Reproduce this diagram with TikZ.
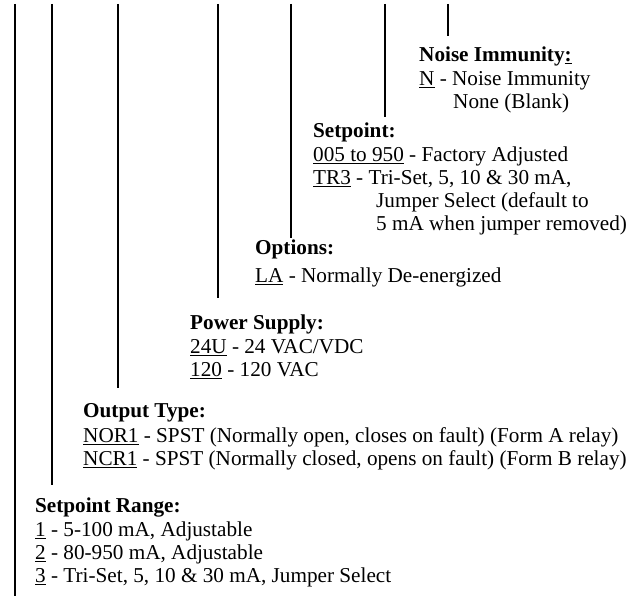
\documentclass[tikz,border=0pt]{standalone}
\usepackage{fontspec}
\setmainfont{Liberation Serif}
\usetikzlibrary{positioning}
\tikzset{leader/.style={line width=2.8pt},
	block/.style={anchor=north west, align=left, inner sep=0pt, font=\fontsize{21.2}{23}\selectfont}}
\newcommand{\opt}[1]{\underline{#1}}
\newcommand{\head}[1]{\textbf{#1}\\[1.5pt]}

\begin{document}
\begin{tikzpicture}[x=1pt,y=-1pt]
	\useasboundingbox (0,0) rectangle (630,596);
	\foreach \x/\y [count=\i] in {15/596,52/485,118/388,218/298,291/238,385/117}{
		\coordinate (top\i) at (\x,4);
		\coordinate (end\i) at (\x,\y);
		\draw[leader] (top\i) -- (end\i);
	}
	\coordinate (top7) at (448,4);
	\coordinate (end7) at (448,36);
	\draw[line width=2.2pt] (top7) -- (end7);
	\node[block] (noise) at (419,46.5) {\textbf{Noise Immunity\opt{:}}\\[1.5pt]
		\opt{N} - Noise Immunity\\ \hspace*{34pt}None (Blank)};
	\node[block] (setpt) at (313,122.5) {\head{Setpoint:}
		\opt{005 to 950} - Factory Adjusted\\
		\opt{TR3} - Tri-Set, 5, 10 \& 30 mA,\\
		\hspace*{63pt}Jumper Select (default to\\
		\hspace*{63pt}5 mA when jumper removed)};
	\node[block] (options) at (255,239.5) {\textbf{Options:}\\[5pt]
		\opt{LA} - Normally De-energized};
	\node[block] (supply) at (190,314.5) {\head{Power Supply:}
		\opt{24U} - 24 VAC/VDC\\
		\opt{120} - 120 VAC};
	\node[block] (output) at (83,403.5) {\head{Output Type:}
		\opt{NOR1} - SPST (Normally open, closes on fault) (Form A relay)\\
		\opt{NCR1} - SPST (Normally closed, opens on fault) (Form B relay)};
	\node[block] (range) at (35,497.5) {\head{Setpoint Range:}
		\opt{1} - 5-100 mA, Adjustable\\
		\opt{2} - 80-950 mA, Adjustable\\
		\opt{3} - Tri-Set, 5, 10 \& 30 mA, Jumper Select};
\end{tikzpicture}
\end{document}
